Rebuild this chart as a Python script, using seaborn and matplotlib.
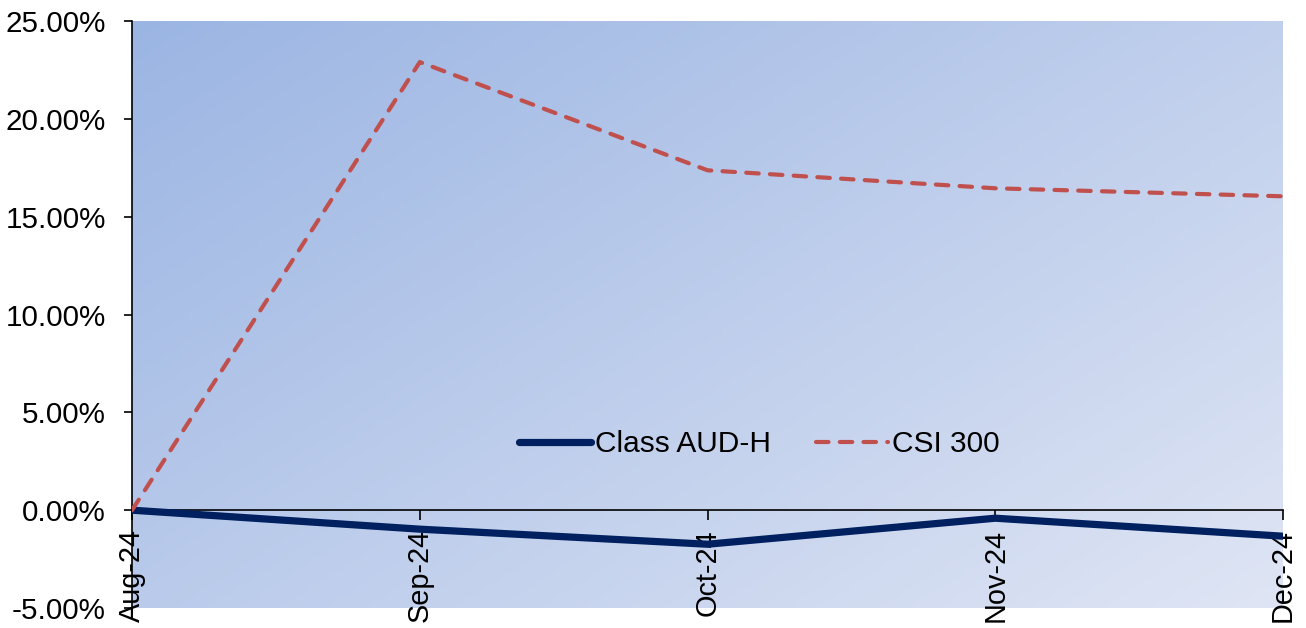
import numpy as np
import pandas as pd
import matplotlib
matplotlib.use("Agg")
import matplotlib.pyplot as plt
from matplotlib.colors import LinearSegmentedColormap
import seaborn as sns

months = ["Aug-24", "Sep-24", "Oct-24", "Nov-24", "Dec-24"]
class_aud_h = [0.00, -0.97, -1.74, -0.41, -1.33]
csi_300 = [0.00, 22.90, 17.37, 16.45, 16.04]
y_ticks = [-5, 0, 5, 10, 15, 20, 25]

sns.set_theme(style="white")
plt.rcParams["font.family"] = ["Liberation Sans", "DejaVu Sans"]

fig = plt.figure(figsize=(13.06, 6.28), dpi=100)
ax = fig.add_axes([0.1011, 0.0318, 0.8813, 0.9348])

# diagonal blue gradient for the plot area, darkest at the top left
gx, gy = np.meshgrid(np.linspace(0, 1, 300), np.linspace(0, 1, 300))
grad = (gx * 0.55 + gy * 0.45)
cmap = LinearSegmentedColormap.from_list("bg", ["#9bb5e3", "#dfe5f4"])
ax.imshow(grad, extent=[0, 1, 0, 1], origin="upper", transform=ax.transAxes,
          cmap=cmap, aspect="auto", zorder=0, interpolation="bilinear")

df = pd.DataFrame({"x": np.arange(len(months)), "aud": class_aud_h, "csi": csi_300})

sns.lineplot(data=df, x="x", y="aud", ax=ax, color="#002060", linewidth=5.2,
             label="Class AUD-H", zorder=3)
sns.lineplot(data=df, x="x", y="csi", ax=ax, color="#c0504d", linewidth=3.0,
             label="CSI 300", zorder=3)
csi_line = ax.lines[-1]
csi_line.set_dashes([3.0, 2.7])
csi_line.set_dash_capstyle("round")

# axis line runs through zero
for s in ["top", "right"]:
    ax.spines[s].set_visible(False)
ax.spines["bottom"].set_position(("data", 0))
for s in ["left", "bottom"]:
    ax.spines[s].set_color("black")
    ax.spines[s].set_linewidth(1.2)
    ax.spines[s].set_zorder(2)

ax.set_xlim(0, len(months) - 1)
ax.set_ylim(-5, 25)
ax.set_xlabel("")
ax.set_ylabel("")

ax.set_yticks(y_ticks)
ax.set_yticklabels([f"{v:.2f}%" for v in y_ticks], fontsize=21.3, color="black")
ax.set_xticks(np.arange(len(months)))
ax.set_xticklabels(months, rotation=90, fontsize=20.8, color="black",
                   ha="center", va="top")

ax.tick_params(axis="y", direction="out", length=6, width=1.2, pad=13,
               left=True, color="black")
ax.tick_params(axis="x", direction="out", length=7, width=1.2, pad=6.5,
               bottom=True, color="black")
ax.grid(False)

leg = ax.legend(loc="center", bbox_to_anchor=(0.545, 0.279), ncol=2, frameon=False,
                fontsize=21.5, handlelength=2.4, handletextpad=0.15,
                columnspacing=1.5)
for t in leg.get_texts():
    t.set_color("black")

fig.savefig("out.png", dpi=100)
